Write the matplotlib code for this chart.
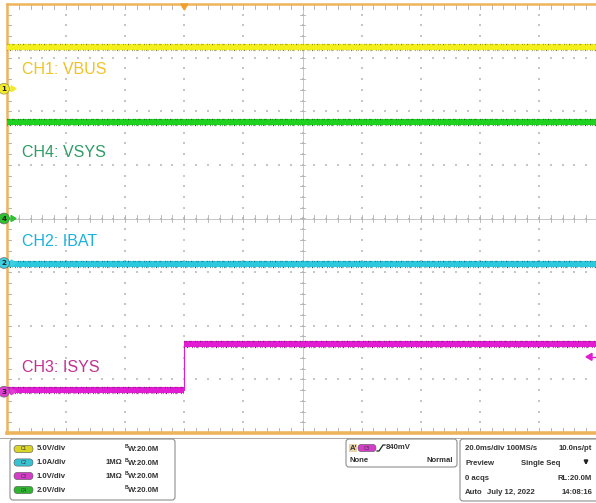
import matplotlib
matplotlib.use("Agg")
import matplotlib.pyplot as plt
import matplotlib.transforms as mtransforms
import numpy as np
from matplotlib.patches import FancyBboxPatch, Circle, Polygon, Rectangle

# ---- acquisition settings ----
time_div_ms = 20.0             # 20.0 ms/div, 10 divisions
t_start, t_end = -60.0, 140.0  # trigger 3 divisions from the left

# channel scales (units/div) and ground-marker positions (divisions from centre)
ch_names = ["CH1: VBUS", "CH4: VSYS", "CH2: IBAT", "CH3: ISYS"]
ch_ids = ["1", "4", "2", "3"]
ch_scale = [5.0, 2.0, 1.0, 1.0]
ch_offset_div = [2.42, 0.0, -0.83, -3.23]

# waveform samples: time (ms) and value (V or A)
vbus_t = [-60.0, 140.0]
vbus_v = [3.9, 3.9]
vsys_t = [-60.0, 140.0]
vsys_v = [3.6, 3.6]
ibat_t = [-60.0, 140.0]
ibat_v = [-0.02, -0.02]
isys_t = [-60.0, 0.0, 0.0, 140.0]
isys_v = [0.03, 0.03, 0.89, 0.89]

trigger_level = 0.65  # CH3 trigger arrow level

trace_col = ["#F4F01C", "#1FD21F", "#2CC9DE", "#E21CD2"]
fleck_col = ["#7A781E", "#0F6414", "#14606E", "#6C1466"]
label_col = ["#F2C224", "#2F9C66", "#1BB2DE", "#C2318F"]
marker_col = ["#F2EA2C", "#2EC02E", "#3ECFE0", "#E03ED2"]
label_y_div = [2.77, 1.24, -0.42, -2.77]

W, H = 596, 503
fig = plt.figure(figsize=(W / 100, H / 100), dpi=100)
fig.patch.set_facecolor("white")

left_px, top_px, bot_px, right_px = 7, 4, 433, 598
ax = fig.add_axes([left_px / W, (H - bot_px) / H,
                   (right_px - left_px) / W, (bot_px - top_px) / H], zorder=2)
ax.set_xlim(t_start, t_end)
ax.set_ylim(-4, 4)
ax.set_facecolor("white")
ax.set_xticks([])
ax.set_yticks([])
frame = "#EDB45C"
for s in ["left", "top"]:
    ax.spines[s].set_color(frame)
    ax.spines[s].set_linewidth(1.8)
ax.spines["bottom"].set_color(frame)
ax.spines["bottom"].set_linewidth(2.6)
ax.spines["right"].set_visible(False)

# pixel-space overlay for the info panel and the screen decorations
ov = fig.add_axes([0, 0, 1, 1], zorder=3)
ov.set_xlim(0, W)
ov.set_ylim(H, 0)
ov.axis("off")
ov.patch.set_alpha(0)

grid_c = "#C6C6C6"
xdiv = np.arange(t_start, t_end + 0.01, time_div_ms)
minor_x = np.arange(t_start, t_end + 0.01, time_div_ms / 5)
minor_y = np.arange(-4, 4.01, 0.2)
# dotted graticule
for xv in xdiv[1:-1]:
    ax.scatter(np.full_like(minor_y, xv), minor_y, s=0.6, c=grid_c, marker="s", lw=0, zorder=1)
for yv in range(-3, 4):
    ax.scatter(minor_x, np.full_like(minor_x, yv), s=0.6, c=grid_c, marker="s", lw=0, zorder=1)
# centre crosshair with minor ticks
xc = (t_start + t_end) / 2
ax.axhline(0, color="#BDBDBD", lw=0.6, zorder=1)
ax.axvline(xc, color="#BDBDBD", lw=0.6, zorder=1)
for xv in minor_x:
    ax.plot([xv, xv], [-0.06, 0.06], color="#B0B0B0", lw=0.6, zorder=1)
    ax.plot([xv, xv], [4, 3.9], color="#A8A8A8", lw=0.6, zorder=1)
    ax.plot([xv, xv], [-4, -3.9], color="#A8A8A8", lw=0.6, zorder=1)
for yv in minor_y:
    ax.plot([xc - 0.9, xc + 0.9], [yv, yv], color="#B0B0B0", lw=0.6, zorder=1)
    ax.plot([t_start, t_start + 1.3], [yv, yv], color="#A8A8A8", lw=0.6, zorder=1)

def to_div(vals, i):
    return [v / ch_scale[i] + ch_offset_div[i] for v in vals]

up = mtransforms.offset_copy(ax.transData, fig=fig, x=0, y=3.0, units="dots")
dn = mtransforms.offset_copy(ax.transData, fig=fig, x=0, y=-3.0, units="dots")

series = [(vbus_t, vbus_v), (vsys_t, vsys_v), (ibat_t, ibat_v), (isys_t, isys_v)]
for i, (t, v) in enumerate(series):
    y = to_div(v, i)
    ax.plot(t, y, color=trace_col[i], lw=0.8, zorder=3)
    for k in range(len(t) - 1):
        if y[k] == y[k + 1] and t[k] != t[k + 1]:
            seg_t, seg_y = [t[k], t[k + 1]], [y[k], y[k + 1]]
            ax.plot(seg_t, seg_y, color=trace_col[i], lw=4.4, solid_capstyle="butt", zorder=4)
            ax.plot(seg_t, seg_y, color=fleck_col[i], lw=0.9, transform=up,
                    dashes=(0.6, 1.0, 0.4, 2.0, 0.8, 0.7, 0.3, 2.6), zorder=5)
            ax.plot(seg_t, seg_y, color=fleck_col[i], lw=0.9, transform=dn,
                    dashes=(0.4, 1.4, 0.9, 0.8, 0.3, 2.3, 0.6, 1.1), zorder=5)
    ax.text(t_start + 5.0, label_y_div[i], ch_names[i], color=label_col[i],
            fontsize=11.5, family=["Liberation Sans", "DejaVu Sans"],
            va="center", ha="left", zorder=6)

# trigger position marker and trigger level arrow
def y_px(div):
    return top_px + (4 - div) * (bot_px - top_px) / 8
def x_px(t):
    return left_px + (t - t_start) / (t_end - t_start) * (right_px - left_px)

trig_x = x_px(0.0)
ov.add_patch(Polygon([[trig_x - 3.5, 4], [trig_x + 3.5, 4], [trig_x, 10]],
                     closed=True, color="#EFA030", zorder=5))
ty = y_px(trigger_level / ch_scale[3] + ch_offset_div[3])
ov.add_patch(Polygon([[586, ty], [592, ty - 3.5], [592, ty + 3.5]], closed=True,
                     color=trace_col[3], zorder=5))
ov.plot([591, 596], [ty, ty], color=trace_col[3], lw=1.0, zorder=5)

# channel ground markers on the left edge
for i in range(4):
    yy = y_px(ch_offset_div[i])
    ov.add_patch(Polygon([[11, yy - 3], [11, yy + 3], [16, yy]], closed=True,
                         color=marker_col[i], zorder=6))
    c = Circle((4.0, yy), 5.4, facecolor=marker_col[i],
               edgecolor="#9A9440" if i == 0 else "#6A6A6A", lw=0.5, zorder=7)
    ov.add_patch(c)
    ov.text(4.0, yy + 0.3, ch_ids[i], fontsize=5.2, ha="center", va="center",
            color="#222222", weight="bold", zorder=8)

# ---- info panel ----
txt_kw = dict(fontsize=5.6, weight="bold", color="#333333", va="center",
              family=["Liberation Sans", "DejaVu Sans"], zorder=6)

def rbox(x0, y0, x1, y1):
    ov.add_patch(FancyBboxPatch((x0, y0), x1 - x0, y1 - y0,
                                boxstyle="round,pad=0,rounding_size=3",
                                fc="white", ec="#8E8E8E", lw=0.8, zorder=5))

def pill(x, y, color, lab, w=19):
    ov.add_patch(FancyBboxPatch((x, y - 3.6), w, 7.2, boxstyle="round,pad=0,rounding_size=3.6",
                                fc=color, ec="#555555", lw=0.4, zorder=6))
    ov.text(x + w / 2, y, lab, fontsize=3.4, ha="center", va="center", color="#333333", zorder=7)

ov.plot([0, W], [437.5, 437.5], color="#9A9A9A", lw=0.6, zorder=4)
rbox(10, 439, 175, 500)
panel_rows = [449, 462.5, 476, 490]
panel_ch = ["C1", "C2", "C3", "C4"]
panel_col = ["#D8D42A", "#38C2D2", "#D23EC8", "#2EB42E"]
panel_scale = ["5.0V/div", "1.0A/div", "1.0V/div", "2.0V/div"]
panel_term = ["", "1MΩ", "1MΩ", ""]
for k in range(4):
    y = panel_rows[k]
    pill(14, y, panel_col[k], panel_ch[k])
    ov.text(37, y, panel_scale[k], **txt_kw)
    if panel_term[k]:
        ov.text(122, y, panel_term[k], ha="right", **txt_kw)
    ov.text(125, y - 2.2, "B", **{**txt_kw, "fontsize": 3.6})
    ov.text(128, y + 0.6, "W:20.0M", **txt_kw)

rbox(346, 439, 457, 467)
ov.add_patch(Rectangle((349, 443.5), 8, 8, fc="#E9D2A8", ec="none", zorder=6))
ov.text(350, 448, "A'", **txt_kw)
pill(358, 448, "#D23EC8", "C3", w=18)
ov.plot([377, 379, 383, 385], [451, 451, 445, 445], color="#222222", lw=0.9, zorder=7)
ov.text(386, 447.5, "840mV", **txt_kw)
ov.text(349, 461, "None", **txt_kw)
ov.text(453, 461, "Normal", ha="right", **txt_kw)

rbox(460, 439, 600, 501)
ov.text(465, 449, "20.0ms/div 100MS/s", **txt_kw)
ov.text(592, 449, "10.0ns/pt", ha="right", **txt_kw)
ov.text(465, 463.5, "Preview", **txt_kw)
ov.text(521, 463.5, "Single Seq", **txt_kw)
ov.annotate("", xy=(586, 468), xytext=(586, 458),
            arrowprops=dict(arrowstyle="-|>", color="#222222", lw=1.4, mutation_scale=5), zorder=7)
ov.text(465, 478, "0 acqs", **txt_kw)
ov.text(592, 478, "RL:20.0M", ha="right", **txt_kw)
ov.text(465, 492, "Auto", **txt_kw)
ov.text(487, 492, "July 12, 2022", **txt_kw)
ov.text(592, 492, "14:08:16", ha="right", **txt_kw)

fig.savefig("out.png", dpi=100, facecolor="white")
